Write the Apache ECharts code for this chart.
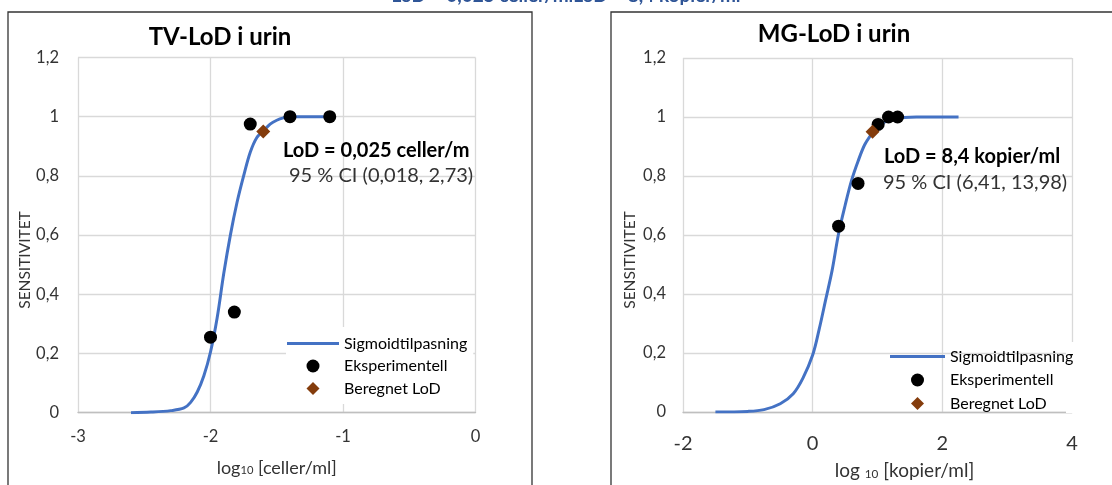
<!DOCTYPE html>
<html>
<head>
<meta charset="utf-8">
<script src="https://cdn.jsdelivr.net/npm/echarts@6/dist/echarts.min.js"></script>
<style>
  html, body { margin: 0; padding: 0; background: #fff; }
  #chart { width: 1112px; height: 485px; }
</style>
</head>
<body>
<div id="chart"></div>
<script>
// TV panel (log10 celler/ml)
const tvCurveX = [-2.60, -2.45, -2.30, -2.20, -2.15, -2.10, -2.05, -2.00, -1.95, -1.90, -1.85, -1.80, -1.75, -1.70, -1.65, -1.60, -1.55, -1.50, -1.45, -1.40, -1.30, -1.20, -1.10];
const tvCurveY = [0, 0.002, 0.007, 0.016, 0.035, 0.07, 0.125, 0.205, 0.32, 0.47, 0.60, 0.71, 0.80, 0.88, 0.93, 0.952, 0.975, 0.988, 0.996, 1.0, 1.0, 1.0, 1.0];
const tvPointsX = [-2.00, -1.82, -1.70, -1.40, -1.10];
const tvPointsY = [0.255, 0.34, 0.975, 1.0, 1.0];
const tvLod = [-1.602, 0.95];

// MG panel (log10 kopier/ml)
const mgCurveX = [-1.50, -1.00, -0.75, -0.50, -0.30, -0.15, 0.00, 0.10, 0.20, 0.30, 0.40, 0.50, 0.60, 0.70, 0.80, 0.90, 1.00, 1.10, 1.20, 1.40, 1.60, 2.00, 2.25];
const mgCurveY = [0, 0.002, 0.008, 0.028, 0.062, 0.115, 0.193, 0.28, 0.38, 0.48, 0.605, 0.70, 0.785, 0.85, 0.905, 0.94, 0.968, 0.982, 0.992, 0.998, 1.0, 1.0, 1.0];
const mgPointsX = [0.40, 0.70, 1.01, 1.17, 1.31];
const mgPointsY = [0.63, 0.775, 0.975, 1.0, 1.0];
const mgLod = [0.924, 0.95];

const yTicks = [0, 0.2, 0.4, 0.6, 0.8, 1, 1.2];

const FONT = 'Lato, "Noto Sans", sans-serif';
const BLUE = '#4472C4';
const BROWN = '#843C0C';
const GRID_COLOR = '#d9d9d9';

const zip = (xs, ys) => xs.map((x, i) => [x, ys[i]]);
const comma = v => String(+v.toFixed(1)).replace('.', ',');

const chart = echarts.init(document.getElementById('chart'));

function xAxisFor(gridIndex, min, max, interval, name, labelSize, nameOpts) {
  return {
    gridIndex, type: 'value', min, max, interval,
    name, nameLocation: 'middle', nameGap: nameOpts.gap,
    nameTextStyle: {
      color: '#333', fontFamily: FONT, fontSize: nameOpts.size,
      padding: nameOpts.padding || 0,
      rich: { s: { fontSize: nameOpts.size * 0.62, fontFamily: FONT, color: '#333', padding: [nameOpts.size * 0.35, 0, 0, 0] } }
    },
    axisLine: { show: true, onZero: false, lineStyle: { color: '#bfbfbf', width: 1.3 } },
    axisTick: { show: false },
    axisLabel: { color: '#333', fontFamily: FONT, fontSize: labelSize, margin: nameOpts.labelMargin },
    splitLine: { show: true, lineStyle: { color: GRID_COLOR, width: 1.3 } }
  };
}

function yAxisFor(gridIndex, margin) {
  return {
    gridIndex, type: 'value', min: yTicks[0], max: yTicks[yTicks.length - 1], interval: 0.2,
    axisLine: { show: false },
    axisTick: { show: false },
    axisLabel: { color: '#333', fontFamily: FONT, fontSize: 16.5, margin, formatter: comma },
    splitLine: { show: true, lineStyle: { color: GRID_COLOR, width: 1.3 } }
  };
}

function seriesFor(idx, curveX, curveY, ptsX, ptsY, lod) {
  return [
    {
      name: 'Sigmoidtilpasning', type: 'line', xAxisIndex: idx, yAxisIndex: idx,
      data: zip(curveX, curveY), smooth: 0.35, symbol: 'none', showSymbol: false,
      lineStyle: { color: BLUE, width: 3 }, itemStyle: { color: BLUE }, z: 2
    },
    {
      name: 'Eksperimentell', type: 'scatter', xAxisIndex: idx, yAxisIndex: idx,
      data: zip(ptsX, ptsY), symbol: 'circle', symbolSize: 13,
      itemStyle: { color: '#000', opacity: 1 }, z: 3
    },
    {
      name: 'Beregnet LoD', type: 'scatter', xAxisIndex: idx, yAxisIndex: idx,
      data: [lod], symbol: 'diamond', symbolSize: 14,
      itemStyle: { color: BROWN, opacity: 1 }, z: 4
    }
  ];
}

const legendData = [
  { name: 'Sigmoidtilpasning', icon: 'path://M0,0 H52 V3 H0 Z' },
  { name: 'Eksperimentell', icon: 'circle' },
  { name: 'Beregnet LoD', icon: 'path://M5,0 L10,5 L5,10 L0,5 Z' }
];

function text(x, y, str, size, weight, align, color, rotation) {
  return {
    type: 'text', x, y, z: 30, rotation: rotation || 0,
    style: {
      text: str, fontSize: size, fontWeight: weight, fontFamily: FONT,
      fill: color || '#000', align: align || 'left', verticalAlign: 'middle'
    }
  };
}

const option = {
  backgroundColor: '#fff',
  animation: false,
  grid: [
    { left: 78, top: 57.5, width: 397.5, height: 355.2 },
    { left: 683, top: 58, width: 389, height: 356 }
  ],
  xAxis: [
    xAxisFor(0, -3, 0, 1, 'log{s|10} [celler/ml]', 16.5, { gap: 46, size: 18, labelMargin: 15 }),
    xAxisFor(1, -2, 4, 2, 'log {s|10} [kopier/ml]', 20, { gap: 49, size: 19, labelMargin: 22, padding: [0, 0, 0, 54] })
  ],
  yAxis: [yAxisFor(0, 19), yAxisFor(1, 17)],
  legend: [
    {
      data: legendData, orient: 'vertical', left: 286, top: 327,
      padding: [8.5, 6, 7.5, 1], backgroundColor: '#fff',
      itemWidth: 52, itemHeight: 13, itemGap: 6.5, z: 10,
      textStyle: { color: '#000', fontFamily: FONT, fontSize: 16 }
    },
    {
      data: legendData, orient: 'vertical', left: 890, top: 348.5, padding: 0,
      itemWidth: 55, itemHeight: 13, itemGap: 7.5, z: 10,
      textStyle: { color: '#000', fontFamily: FONT, fontSize: 16 }
    }
  ],
  graphic: {
    elements: [
      // panel frames
      { type: 'rect', shape: { x: 8, y: 12, width: 524, height: 500 }, style: { fill: 'none', stroke: '#333', lineWidth: 1.3 }, z: 1 },
      { type: 'rect', shape: { x: 611, y: 12, width: 520, height: 500 }, style: { fill: 'none', stroke: '#333', lineWidth: 1.3 }, z: 1 },
      // legend backdrop hiding the right gridline of the MG plot
      { type: 'rect', shape: { x: 1066, y: 342, width: 14, height: 71 }, style: { fill: '#fff' }, z: 2 },
      // clipped headline
      text(566, -4, 'LoD = 0,025 celler/mlLoD = 8,4 kopier/ml', 19, 'bold', 'center', '#2F5597'),
      // titles
      text(220, 37, 'TV-LoD i urin', 24, 'bold', 'center'),
      text(834, 34, 'MG-LoD i urin', 24, 'bold', 'center'),
      // y-axis names
      text(25, 260, 'SENSITIVITET', 15.5, 'normal', 'center', '#333', Math.PI / 2),
      text(630, 260, 'SENSITIVITET', 15.5, 'normal', 'center', '#333', Math.PI / 2),
      // LoD annotations
      text(283, 151, 'LoD = 0,025 celler/m', 20, 'bold'),
      text(289, 176, '95 % CI (0,018, 2,73)', 20, 'normal', 'left', '#333'),
      text(884, 157, 'LoD = 8,4 kopier/ml', 20, 'bold'),
      text(883, 183, '95 % CI (6,41, 13,98)', 20, 'normal', 'left', '#333')
    ]
  },
  series: [
    ...seriesFor(0, tvCurveX, tvCurveY, tvPointsX, tvPointsY, tvLod),
    ...seriesFor(1, mgCurveX, mgCurveY, mgPointsX, mgPointsY, mgLod)
  ]
};

chart.setOption(option);
</script>
</body>
</html>
